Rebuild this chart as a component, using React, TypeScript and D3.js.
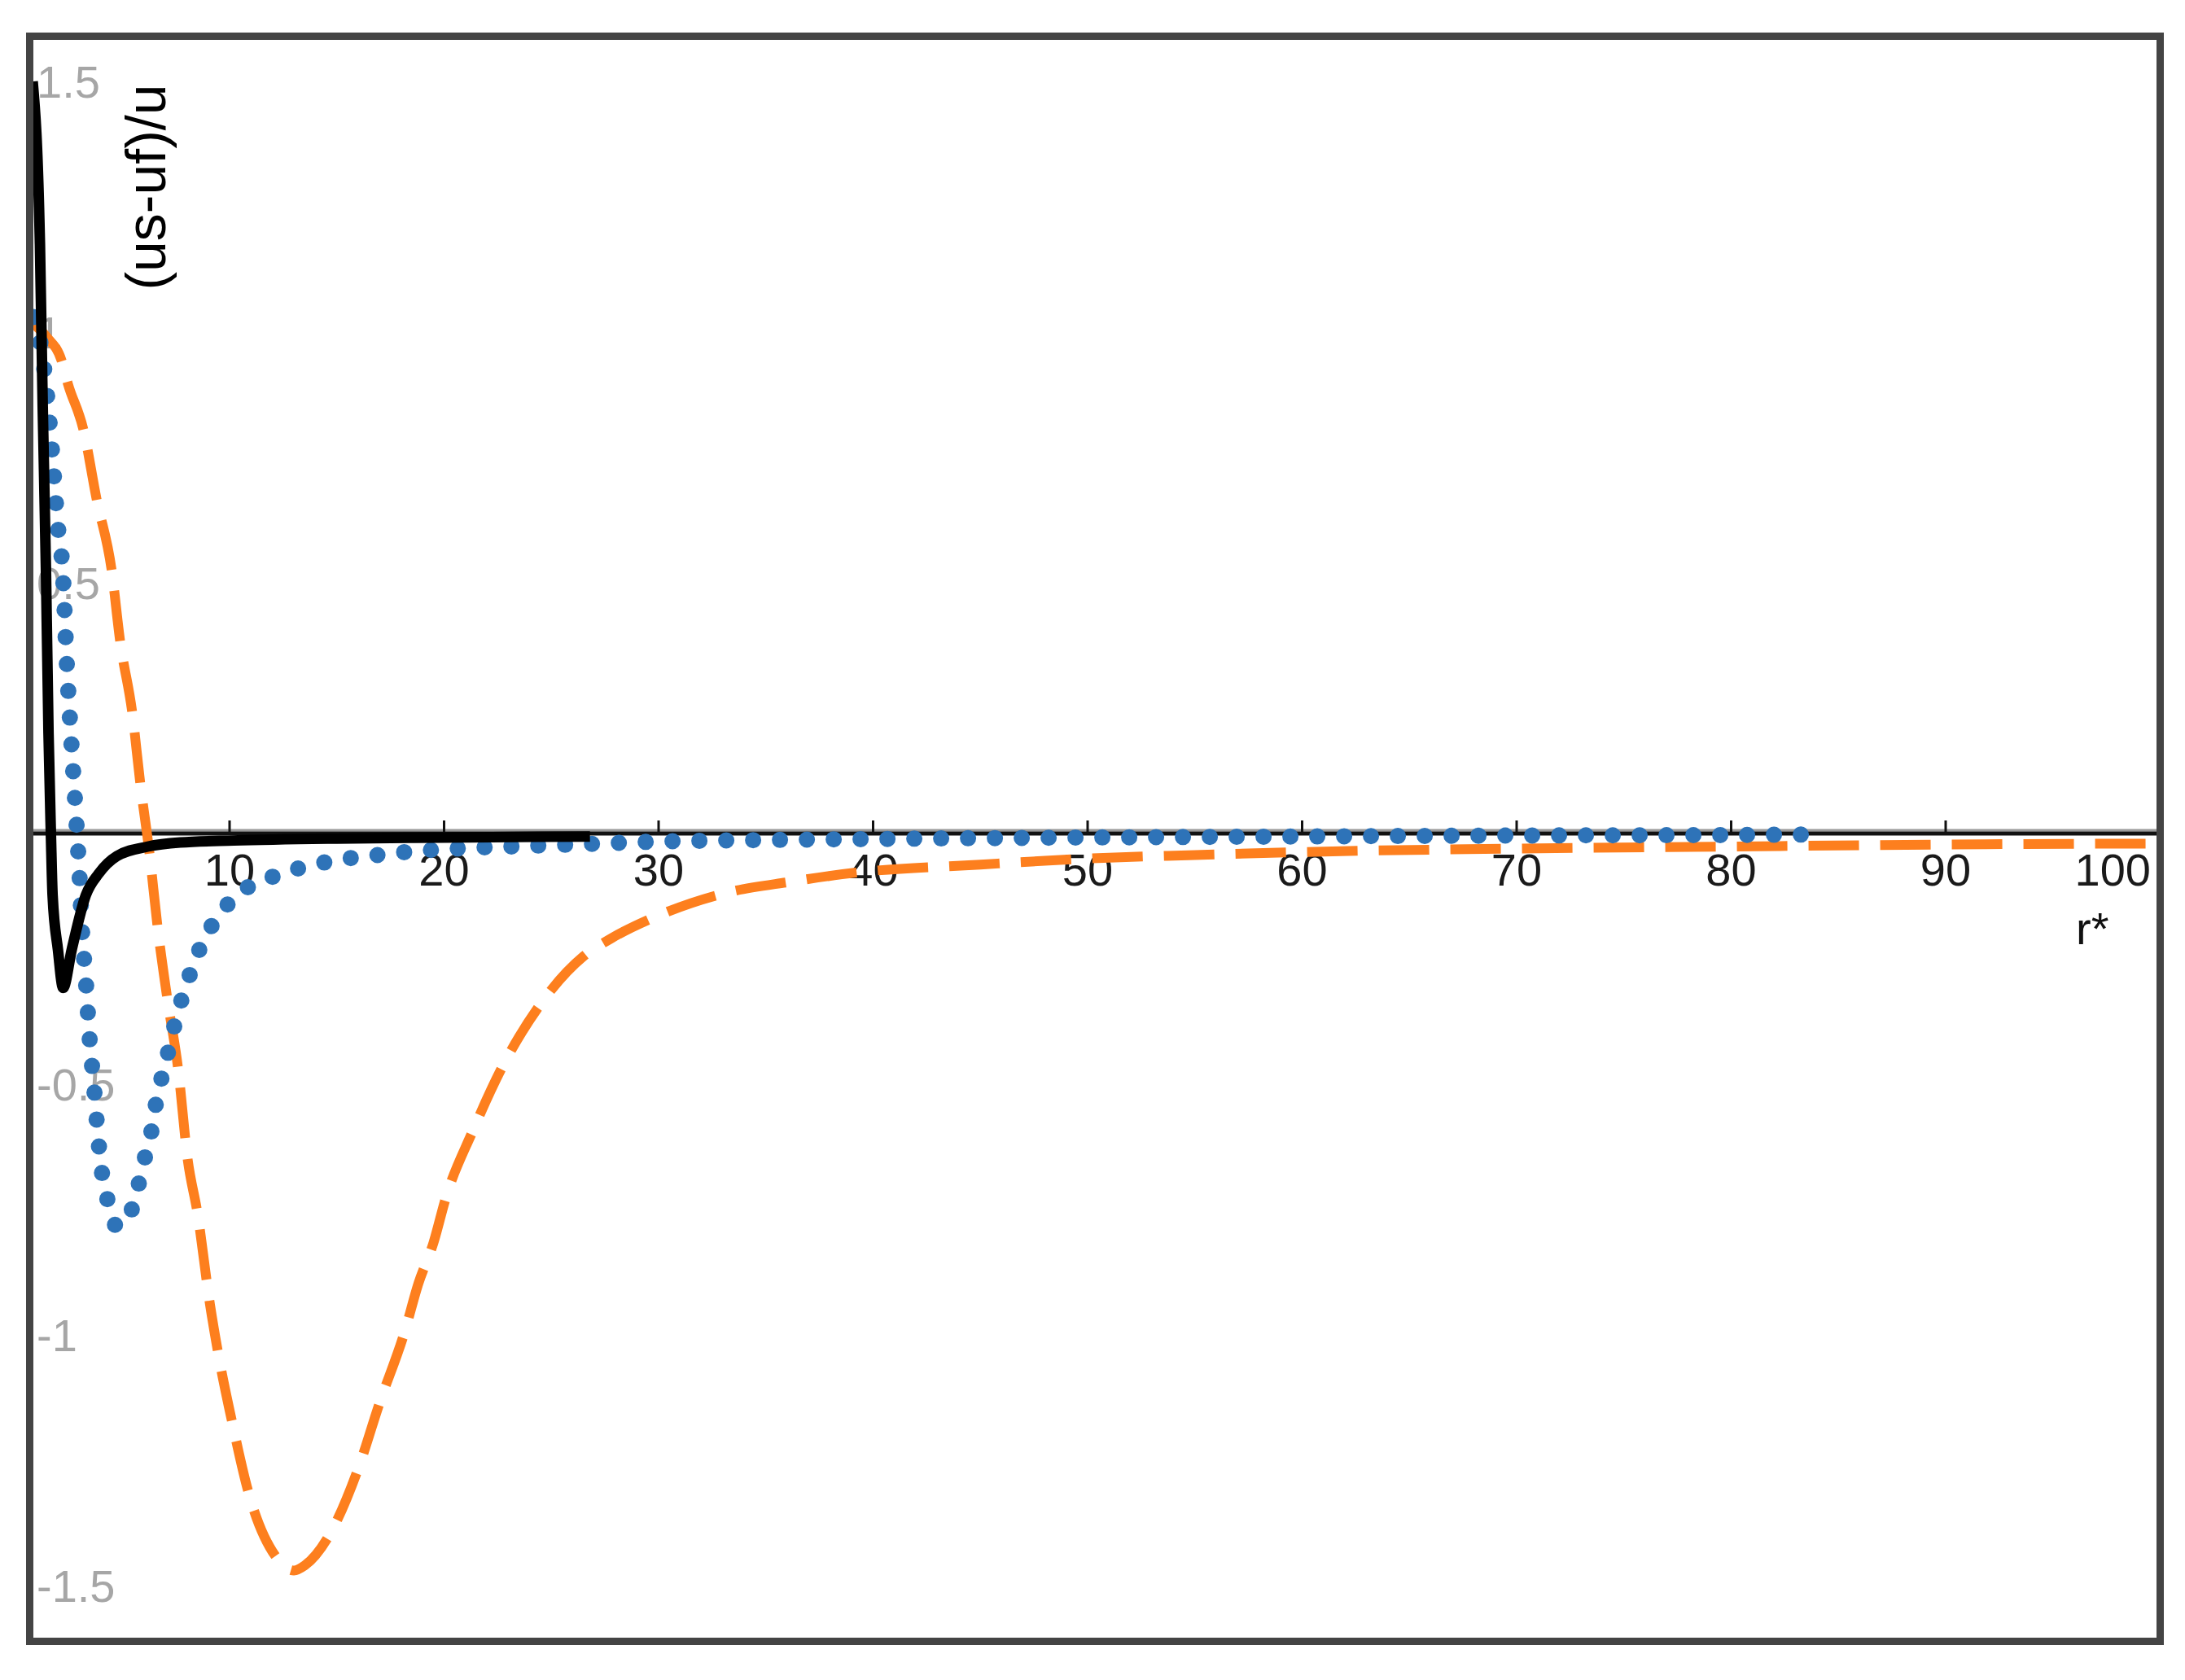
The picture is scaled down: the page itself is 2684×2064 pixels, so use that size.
import React from "react";
import * as d3 from "d3";

type P = [number, number];

const blackSeries: P[] = [
  [0.82, 1.5], [1.16, 1.175], [1.29, 0.85], [1.44, 0.526], [1.56, 0.2], [1.67, 0.0],
  [1.75, -0.123], [2.0, -0.232], [2.24, -0.308], [2.64, -0.232], [3.3, -0.123],
  [3.9, -0.08], [4.75, -0.045], [6.2, -0.026], [7.7, -0.018], [10.2, -0.014],
  [15, -0.01], [20, -0.008], [26.8, -0.006],
];

const blueSeries: P[] = [
  [0.84, 1.03], [1.14, 0.99], [1.48, 0.88], [1.71, 0.77], [1.98, 0.62], [2.24, 0.51],
  [2.4, 0.35], [2.62, 0.185], [2.85, 0.03], [3.0, -0.08], [3.12, -0.19], [3.31, -0.3],
  [3.46, -0.4], [3.69, -0.51], [3.88, -0.61], [4.03, -0.67], [4.26, -0.72], [4.52, -0.77],
  [4.83, -0.785], [5.13, -0.77], [5.67, -0.72], [5.89, -0.67], [6.24, -0.62], [6.65, -0.52],
  [7.0, -0.46], [7.57, -0.36], [8.33, -0.26], [8.82, -0.21], [9.5, -0.164], [10.45, -0.118],
  [11.5, -0.096], [12.5, -0.078], [13.8, -0.064], [14.95, -0.053], [16.3, -0.046],
  [17.5, -0.04], [19, -0.034], [21, -0.029], [23, -0.026], [26, -0.022], [30, -0.016],
  [35, -0.013], [40, -0.011], [50, -0.008], [60, -0.006], [70, -0.004], [80, -0.003], [84, -0.002],
];

const orangeSeries: P[] = [
  [0.75, 1.02], [1.48, 0.99], [2.17, 0.943], [2.47, 0.896], [3.19, 0.805], [3.8, 0.667],
  [4.5, 0.526], [4.9, 0.383], [5.47, 0.239], [5.84, 0.099], [6.26, -0.037], [6.64, -0.185],
  [7.1, -0.33], [7.6, -0.469], [8.05, -0.651], [8.5, -0.756], [9.09, -0.94], [9.47, -1.037],
  [10.15, -1.18], [10.9, -1.317], [12.17, -1.443], [13.0, -1.47], [13.5, -1.46],
  [14.64, -1.4], [15.97, -1.27], [17.0, -1.135], [18.14, -0.997], [18.8, -0.898],
  [19.5, -0.817], [20.1, -0.724], [21.33, -0.594], [22.77, -0.461], [24.45, -0.343],
  [26.5, -0.245], [27.8, -0.209], [29.8, -0.167], [33.0, -0.12], [36.2, -0.096],
  [39.2, -0.078], [45, -0.062], [50, -0.05], [55, -0.043], [60, -0.037], [70, -0.03],
  [80, -0.026], [90, -0.022], [100, -0.02],
];

const xTicks = [10, 20, 30, 40, 50, 60, 70, 80, 90, 100];
const yTicks = [1.5, 1, 0.5, -0.5, -1, -1.5];
const xTitle = "r*";
const yTitle = "(us-uf)/u";

const W = 2684;
const H = 2064;

export default function App() {
  const x = d3.scaleLinear().domain([0, 100]).range([18.5, 2653.5]);
  const y = d3.scaleLinear().domain([-1.5, 1.5]).range([1948, 100]);
  const line = d3
    .line<P>()
    .x((d) => x(d[0]))
    .y((d) => y(d[1]))
    .curve(d3.curveMonotoneX);

  const font = "'Liberation Sans', Arial, sans-serif";
  const y0 = y(0);

  return (
    <svg
      width={W}
      height={H}
      style={{ position: "absolute", left: 0, top: 0, background: "#fff" }}
    >
      <defs>
        <clipPath id="plot">
          <rect x={41} y={49} width={2612} height={1967} />
        </clipPath>
      </defs>
      <rect x={0} y={0} width={W} height={H} fill="#fff" />

      {/* y tick labels */}
      {yTicks.map((t) => (
        <text
          key={"y" + t}
          x={45}
          y={y(t)}
          dy="0.35em"
          fontFamily={font}
          fontSize={56}
          fill="#a6a6a6"
        >
          {t < 0 ? "-" + String(Math.abs(t)) : String(t)}
        </text>
      ))}

      {/* x tick labels */}
      {xTicks.map((t) => (
        <text
          key={"x" + t}
          x={t === 100 ? 2642 : x(t)}
          y={1088}
          textAnchor={t === 100 ? "end" : "middle"}
          fontFamily={font}
          fontSize={56}
          fill="#1a1a1a"
        >
          {t}
        </text>
      ))}

      {/* axis */}
      <line x1={37} x2={2653} y1={y0 - 4} y2={y0 - 4} stroke="#9a9a9a" strokeWidth={3} />
      <line x1={37} x2={2653} y1={y0} y2={y0} stroke="#111" strokeWidth={5} />
      {xTicks.map((t) => (
        <line
          key={"t" + t}
          x1={x(t)}
          x2={x(t)}
          y1={y0 - 16}
          y2={y0}
          stroke="#111"
          strokeWidth={3}
        />
      ))}

      {/* titles */}
      <text
        x={2550}
        y={1160}
        fontFamily={font}
        fontSize={56}
        fill="#111"
      >
        {xTitle}
      </text>
      <text
        transform={`translate(203,230) rotate(-90)`}
        textAnchor="middle"
        fontFamily={font}
        fontSize={68}
        fill="#000"
      >
        {yTitle}
      </text>

      {/* curves */}
      <g clipPath="url(#plot)">
        <path
          d={line(orangeSeries) ?? ""}
          fill="none"
          stroke="#FD7F1E"
          strokeWidth={12}
          strokeDasharray="62 26"
        />
        <path
          d={line(blueSeries) ?? ""}
          fill="none"
          stroke="#2E73B8"
          strokeWidth={20}
          strokeLinecap="round"
          strokeDasharray="0 33"
        />
        <path
          d={line(blackSeries) ?? ""}
          fill="none"
          stroke="#000"
          strokeWidth={13}
          strokeLinejoin="round"
        />
      </g>

      {/* frame */}
      <rect
        x={36.5}
        y={44.5}
        width={2617}
        height={1972}
        fill="none"
        stroke="#444"
        strokeWidth={9}
      />
    </svg>
  );
}
